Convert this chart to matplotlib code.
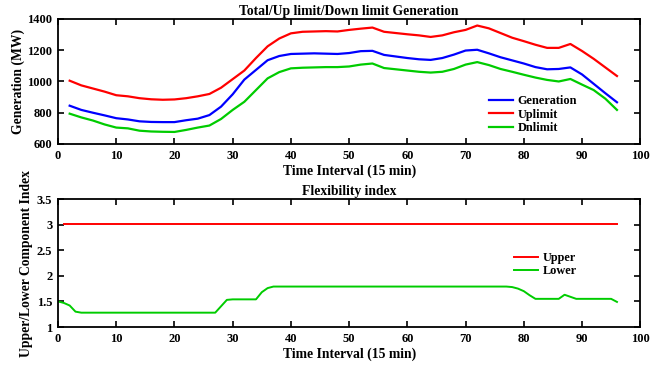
import matplotlib
matplotlib.use("Agg")
import matplotlib.pyplot as plt

plt.rcParams['font.family'] = ['Liberation Serif', 'DejaVu Serif']
plt.rcParams['font.weight'] = 'bold'

# ---- Top panel data ----
t_gen = [2, 4, 6, 8, 10, 12, 14, 16, 18, 20, 22, 24, 26, 28, 30, 32, 34, 36, 38, 40,
         42, 44, 46, 48, 50, 52, 54, 56, 58, 60, 62, 64, 66, 68, 70, 72, 74, 76, 78, 80,
         82, 84, 86, 88, 90, 92, 94, 96]
generation = [845, 818, 800, 783, 765, 757, 745, 741, 740, 740, 752, 762, 785, 839, 918, 1012,
              1074, 1136, 1163, 1176, 1178, 1180, 1178, 1176, 1182, 1194, 1196, 1170, 1160, 1150,
              1142, 1138, 1150, 1172, 1198, 1203, 1180, 1155, 1135, 1115, 1092, 1078, 1080, 1090,
              1045, 985, 925, 867]
uplimit = [1005, 975, 955, 935, 912, 905, 893, 886, 883, 885, 893, 905, 920, 960, 1015, 1070,
           1150, 1225, 1275, 1308, 1318, 1320, 1322, 1320, 1330, 1338, 1345, 1318, 1310, 1302,
           1295, 1285, 1295, 1315, 1330, 1358, 1340, 1310, 1280, 1258, 1235, 1215, 1215, 1240,
           1195, 1145, 1090, 1035]
dnlimit = [794, 770, 750, 725, 705, 700, 685, 680, 678, 677, 690, 705, 718, 760, 818, 870,
           945, 1020, 1060, 1084, 1088, 1090, 1092, 1092, 1096, 1108, 1115, 1086, 1078, 1070,
           1062, 1057, 1062, 1080, 1108, 1124, 1105, 1080, 1062, 1043, 1025, 1010, 1000, 1016,
           980, 945, 890, 818]

# ---- Bottom panel data ----
t_upper = [1, 96]
upper = [3.02, 3.02]
t_lower = [0, 1, 2, 3, 4, 27, 29, 30, 34, 35, 36, 37, 77, 78, 79, 80, 81, 82, 86, 87, 89, 95, 96]
lower = [1.50, 1.47, 1.42, 1.30, 1.28, 1.28, 1.53, 1.54, 1.54, 1.68, 1.76, 1.79, 1.79, 1.78,
         1.75, 1.70, 1.62, 1.55, 1.55, 1.63, 1.55, 1.55, 1.49]

fig = plt.figure(figsize=(6.7, 3.69), dpi=100)
ax1 = fig.add_axes([0.0866, 0.6098, 0.869, 0.3388])
ax2 = fig.add_axes([0.0866, 0.1138, 0.869, 0.3469])

fs_tick = 9
fs_lab = 9.8

def style(ax):
    ax.tick_params(direction='in', top=True, right=True, labelsize=fs_tick, width=1.2,
                   length=4, pad=4)
    for s in ax.spines.values():
        s.set_linewidth(1.3)
    for lab in ax.get_xticklabels() + ax.get_yticklabels():
        lab.set_fontweight('bold')

ax1.plot(t_gen, generation, color='#0000ff', lw=1.6, label='Generation')
ax1.plot(t_gen, uplimit, color='#ff0000', lw=1.6, label='Uplimit')
ax1.plot(t_gen, dnlimit, color='#00cc00', lw=1.6, label='Dnlimit')
ax1.set_xlim(0, 100)
ax1.set_ylim(600, 1400)
ax1.set_yticks([600, 800, 1000, 1200, 1400])
ax1.set_xticks(range(0, 101, 10))
ax1.set_title('Total/Up limit/Down limit Generation', fontsize=fs_lab, fontweight='bold', pad=3)
ax1.set_xlabel('Time Interval (15 min)', fontsize=fs_lab, fontweight='bold', labelpad=2)
ax1.set_ylabel('Generation (MW)', fontsize=fs_lab, fontweight='bold', labelpad=2)
ax1.legend(loc='lower right', bbox_to_anchor=(0.91, -0.01), frameon=False,
           prop={'size': 8.8, 'weight': 'bold'}, handlelength=2.0, labelspacing=0.12,
           handletextpad=0.35)
style(ax1)

ax2.plot(t_upper, upper, color='#ff0000', lw=1.4, label='Upper')
ax2.plot(t_lower, lower, color='#00cc00', lw=1.4, label='Lower')
ax2.set_xlim(0, 100)
ax2.set_ylim(1, 3.5)
ax2.set_yticks([1, 1.5, 2, 2.5, 3, 3.5])
ax2.set_yticklabels(['1', '1.5', '2', '2.5', '3', '3.5'])
ax2.set_xticks(range(0, 101, 10))
ax2.set_title('Flexibility index', fontsize=fs_lab, fontweight='bold', pad=3)
ax2.set_xlabel('Time Interval (15 min)', fontsize=fs_lab, fontweight='bold', labelpad=2)
ax2.set_ylabel('Upper/Lower Component Index', fontsize=fs_lab, fontweight='bold', labelpad=3)
ax2.legend(loc='upper right', bbox_to_anchor=(0.91, 0.672), frameon=False,
           prop={'size': 8.8, 'weight': 'bold'}, handlelength=2.0, labelspacing=0.12,
           handletextpad=0.35)
style(ax2)

fig.savefig('out.png', dpi=100)
